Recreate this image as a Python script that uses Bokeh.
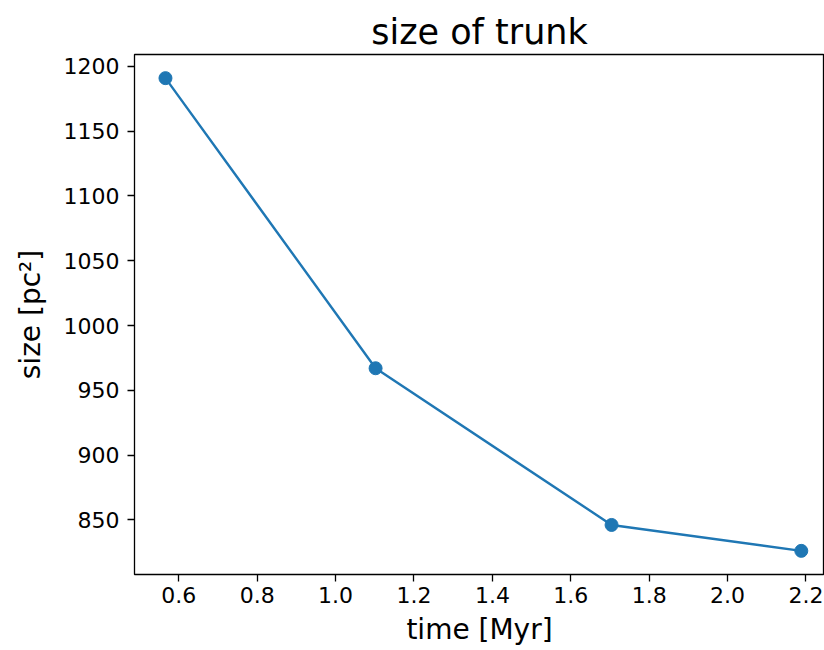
from bokeh.plotting import figure
from bokeh.models import FixedTicker, PrintfTickFormatter, Range1d
from bokeh.embed import file_html
from bokeh.resources import INLINE

# data
time_myr = [0.566, 1.102, 1.704, 2.188]
size_pc2 = [1191, 967, 846, 826]
x_ticks = [0.6, 0.8, 1.0, 1.2, 1.4, 1.6, 1.8, 2.0, 2.2]
y_ticks = [850, 900, 950, 1000, 1050, 1100, 1150, 1200]

FONT = "DejaVu Sans"
BLUE = "#1f77b4"

p = figure(width=824, height=648, output_backend="svg", toolbar_location=None,
           x_range=Range1d(0.487, 2.2472), y_range=Range1d(807.75, 1209.25),
           min_border_left=134, min_border_right=0, min_border_top=54, min_border_bottom=72,
           title="size of trunk")

p.title.text_font = FONT
p.title.text_font_size = "35px"
p.title.text_font_style = "normal"
p.title.align = "center"
p.title.text_color = "black"
p.title.standoff = 6

p.line(time_myr, size_pc2, line_color=BLUE, line_width=2.4)
p.scatter(time_myr, size_pc2, size=13, fill_color=BLUE, line_color=BLUE)

p.xgrid.visible = False
p.ygrid.visible = False
p.outline_line_color = "black"
p.outline_line_width = 1.3
p.outline_line_alpha = 1.0

for ax in (p.xaxis[0], p.yaxis[0]):
    ax.axis_line_color = None
    ax.major_tick_line_color = "black"
    ax.major_tick_line_width = 1.3
    ax.major_tick_out = 7
    ax.major_tick_in = 0
    ax.minor_tick_line_color = None
    ax.major_label_text_font = FONT
    ax.major_label_text_font_size = "22px"
    ax.major_label_text_color = "black"
    ax.axis_label_text_font = FONT
    ax.axis_label_text_font_size = "28px"
    ax.axis_label_text_font_style = "normal"
    ax.axis_label_text_color = "black"

p.xaxis[0].ticker = FixedTicker(ticks=x_ticks)
p.xaxis[0].formatter = PrintfTickFormatter(format="%.1f")
p.xaxis[0].axis_label = "time [Myr]"
p.xaxis[0].major_label_standoff = 5
p.xaxis[0].axis_label_standoff = 7

p.yaxis[0].ticker = FixedTicker(ticks=y_ticks)
p.yaxis[0].formatter = PrintfTickFormatter(format="%d")
p.yaxis[0].axis_label = "size [pc²]"
p.yaxis[0].major_label_standoff = 8
p.yaxis[0].axis_label_standoff = 14

open("out.html", "w").write(file_html(p, INLINE))
